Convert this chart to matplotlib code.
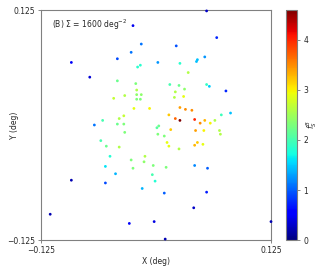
import matplotlib
matplotlib.use("Agg")
import matplotlib.pyplot as plt
import numpy as np

# positions in deg and f_S^B values
x_deg = [-0.025, -0.016, -0.092, -0.042, -0.027, 0.002, -0.072, -0.042, -0.022, -0.021,
         -0.034, -0.021, -0.016, -0.021, -0.017, -0.046, -0.024, -0.007, -0.058, -0.040,
         -0.035, -0.067, -0.042, -0.035, 0.001, 0.003, -0.034, 0.002, -0.060, 0.055,
         0.066, 0.022, 0.026, 0.053, 0.045, 0.044, -0.017, -0.020, 0.035, 0.015,
         0.025, 0.055, 0.058, 0.076, 0.021, 0.031, 0.020, 0.030, 0.026, 0.032,
         0.039, 0.014, 0.021, 0.026, 0.042, 0.048, 0.053, 0.059, 0.064, 0.071,
         0.081, 0.016, 0.043, 0.052, 0.069, 0.070, 0.009, 0.012, 0.014, 0.025,
         0.042, 0.045, 0.051, -0.012, -0.013, -0.003, 0.011, 0.042, 0.056, -0.004,
         -0.001, -0.015, 0.009, 0.055, 0.041, -0.002, 0.125, 0.010, -0.054, -0.040,
         -0.050, -0.027, -0.025, -0.055, -0.044, -0.092, -0.055, -0.115, -0.029]
y_deg = [0.108, 0.088, 0.068, 0.072, 0.079, 0.068, 0.052, 0.048, 0.045, 0.038,
         0.032, 0.033, 0.033, 0.028, 0.028, 0.029, 0.018, 0.018, 0.005, 0.007,
         0.010, 0.000, 0.001, 0.001, -0.003, -0.001, -0.008, -0.010, -0.017, 0.124,
         0.095, 0.086, 0.067, 0.074, 0.071, 0.069, 0.065, 0.063, 0.057, 0.044,
         0.043, 0.044, 0.042, 0.037, 0.036, 0.039, 0.030, 0.031, 0.019, 0.017,
         0.016, 0.011, 0.007, 0.005, 0.006, 0.002, 0.005, 0.002, 0.005, 0.011,
         0.013, -0.005, -0.006, -0.006, -0.006, -0.010, -0.012, -0.019, -0.023, -0.026,
         -0.022, -0.019, -0.021, -0.034, -0.040, -0.044, -0.046, -0.044, -0.047, -0.054,
         -0.061, -0.069, -0.074, -0.073, -0.090, -0.105, -0.105, -0.124, -0.023, -0.024,
         -0.034, -0.038, -0.047, -0.045, -0.053, -0.060, -0.063, -0.097, -0.107]
f_sb = [0.45, 1.1, 0.5, 0.9, 1.1, 1.25, 0.35, 2.2, 2.3, 2.6,
        2.6, 2.4, 2.4, 2.3, 2.3, 2.7, 2.9, 3.0, 2.0, 2.6,
        2.7, 1.1, 2.2, 2.3, 2.1, 2.2, 2.3, 2.3, 2.0, 0.3,
        0.75, 0.95, 1.85, 1.25, 1.45, 1.45, 1.85, 1.85, 2.6, 2.0,
        2.2, 1.9, 1.5, 0.75, 2.6, 2.4, 2.6, 2.9, 3.4, 3.5,
        3.5, 3.2, 3.7, 4.6, 4.0, 3.5, 3.3, 3.0, 2.6, 1.95,
        1.45, 3.2, 3.4, 3.0, 2.6, 2.6, 2.3, 2.9, 2.9, 2.6,
        3.3, 3.2, 2.9, 2.6, 2.4, 2.3, 2.3, 1.2, 1.0, 2.0,
        1.8, 1.4, 1.0, 0.7, 0.3, 0.4, 0.2, 0.2, 2.2, 2.6,
        1.8, 2.3, 2.3, 1.6, 1.4, 0.2, 0.9, 0.2, 0.5]

axis_ticks = [-0.125, 0.125]
axis_ticklabels = ["\u22120.125", "0.125"]
cbar_ticks = [0, 1, 2, 3, 4]
title_text = "(B) \u03a3 = 1600 deg$^{-2}$"

W, H = 327, 273
fig = plt.figure(figsize=(W / 100, H / 100), dpi=100)
ax = fig.add_axes([41 / W, 1 - 240 / H, 230 / W, 230 / H])
cax = fig.add_axes([286 / W, 1 - 240 / H, 11 / W, 230 / H])

sc = ax.scatter(x_deg, y_deg, c=f_sb, cmap="jet", vmin=0, vmax=4.6,
                s=4, marker="o", linewidths=0, clip_on=False, zorder=3)
ax.set_xlim(-0.125, 0.125)
ax.set_ylim(-0.125, 0.125)
ax.set_xticks(axis_ticks)
ax.set_xticklabels(axis_ticklabels)
ax.set_yticks(axis_ticks)
ax.set_yticklabels(axis_ticklabels)
ax.tick_params(labelsize=5.5, length=2.5, width=0.6, color="0.45", labelcolor="0.15", pad=1.5)
for sp in ax.spines.values():
    sp.set_color("0.5")
    sp.set_linewidth(0.8)
ax.set_xlabel("X (deg)", fontsize=5.5, color="0.15", labelpad=2)
ax.set_ylabel("Y (deg)", fontsize=5.5, color="0.15", labelpad=-8)
ax.text(0.05, 0.965, title_text, transform=ax.transAxes, fontsize=5.5,
        color="0.15", ha="left", va="top")

cb = fig.colorbar(sc, cax=cax, ticks=cbar_ticks)
cb.outline.set_edgecolor("0.5")
cb.outline.set_linewidth(0.8)
cax.tick_params(labelsize=5.5, length=2.5, width=0.6, color="0.45", labelcolor="0.15", pad=2)
cb.set_label(r"$f_S^B$", fontsize=5.5, color="0.15", labelpad=-3)

fig.savefig("out.png", dpi=100)
